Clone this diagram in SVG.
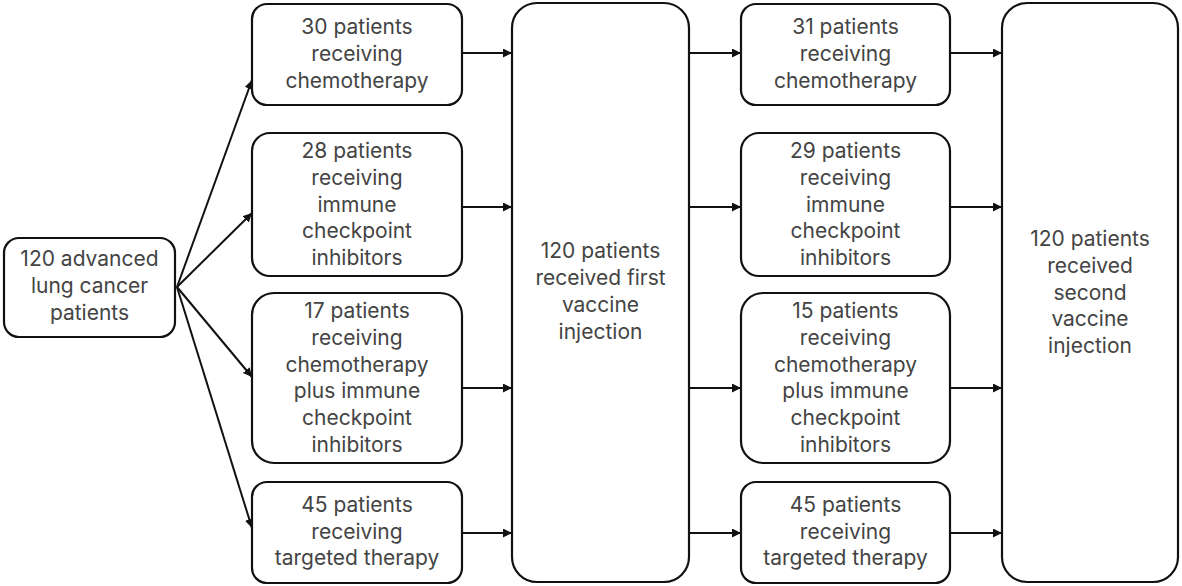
<svg xmlns="http://www.w3.org/2000/svg" width="1182" height="586" viewBox="0 0 1182 586">
<style>
.box{fill:#fff;stroke:#111;stroke-width:2.2}
.t{font-family:Inter,"Noto Sans",sans-serif;font-size:21px;fill:#444;text-anchor:middle;dominant-baseline:central}
.c{stroke:#111;stroke-width:2;fill:none;marker-end:url(#ah)}
</style>
<defs>
<marker id="ah" viewBox="0 0 10 10" refX="10" refY="5" markerWidth="4.5" markerHeight="4.5" orient="auto" markerUnits="strokeWidth">
<path d="M0,0 L10,5 L0,10 z" fill="#111"/>
</marker>
</defs>
<rect width="1182" height="586" fill="#fff"/>
<g id="connectors">
<line class="c" x1="177" y1="287" x2="252" y2="80"/>
<line class="c" x1="177" y1="287" x2="252" y2="213"/>
<line class="c" x1="177" y1="287" x2="252" y2="377"/>
<line class="c" x1="177" y1="287" x2="252" y2="528"/>
<line class="c" x1="462" y1="53" x2="512" y2="53"/>
<line class="c" x1="462" y1="207" x2="512" y2="207"/>
<line class="c" x1="462" y1="388" x2="512" y2="388"/>
<line class="c" x1="462" y1="533" x2="512" y2="533"/>
<line class="c" x1="689" y1="53" x2="741" y2="53"/>
<line class="c" x1="689" y1="207" x2="741" y2="207"/>
<line class="c" x1="689" y1="388" x2="741" y2="388"/>
<line class="c" x1="689" y1="533" x2="741" y2="533"/>
<line class="c" x1="950" y1="53" x2="1002" y2="53"/>
<line class="c" x1="950" y1="207" x2="1002" y2="207"/>
<line class="c" x1="950" y1="388" x2="1002" y2="388"/>
<line class="c" x1="950" y1="533" x2="1002" y2="533"/>
</g>
<g id="start">
<rect class="box" x="4" y="238" width="171" height="99" rx="15"/>
<text class="t" x="89.5" y="258">120 advanced</text>
<text class="t" x="89.5" y="285">lung cancer</text>
<text class="t" x="89.5" y="312">patients</text>
</g>
<g id="a1">
<rect class="box" x="252" y="4" width="210" height="101" rx="15"/>
<text class="t" x="357" y="26">30 patients</text>
<text class="t" x="357" y="53">receiving</text>
<text class="t" x="357" y="80">chemotherapy</text>
</g>
<g id="a2">
<rect class="box" x="252" y="133" width="210" height="143" rx="18"/>
<text class="t" x="357" y="150">28 patients</text>
<text class="t" x="357" y="177">receiving</text>
<text class="t" x="357" y="204">immune</text>
<text class="t" x="357" y="230">checkpoint</text>
<text class="t" x="357" y="257">inhibitors</text>
</g>
<g id="a3">
<rect class="box" x="252" y="293" width="210" height="170" rx="22"/>
<text class="t" x="357" y="310">17 patients</text>
<text class="t" x="357" y="337">receiving</text>
<text class="t" x="357" y="364">chemotherapy</text>
<text class="t" x="357" y="390">plus immune</text>
<text class="t" x="357" y="417">checkpoint</text>
<text class="t" x="357" y="444">inhibitors</text>
</g>
<g id="a4">
<rect class="box" x="252" y="482" width="210" height="101" rx="15"/>
<text class="t" x="357" y="504">45 patients</text>
<text class="t" x="357" y="531">receiving</text>
<text class="t" x="357" y="557">targeted therapy</text>
</g>
<g id="v1">
<rect class="box" x="512" y="3" width="177" height="579" rx="25"/>
<text class="t" x="600.5" y="250">120 patients</text>
<text class="t" x="600.5" y="277">received first</text>
<text class="t" x="600.5" y="304">vaccine</text>
<text class="t" x="600.5" y="331">injection</text>
</g>
<g id="b1">
<rect class="box" x="741" y="4" width="209" height="101" rx="15"/>
<text class="t" x="845.5" y="26">31 patients</text>
<text class="t" x="845.5" y="53">receiving</text>
<text class="t" x="845.5" y="80">chemotherapy</text>
</g>
<g id="b2">
<rect class="box" x="741" y="133" width="209" height="143" rx="18"/>
<text class="t" x="845.5" y="150">29 patients</text>
<text class="t" x="845.5" y="177">receiving</text>
<text class="t" x="845.5" y="204">immune</text>
<text class="t" x="845.5" y="230">checkpoint</text>
<text class="t" x="845.5" y="257">inhibitors</text>
</g>
<g id="b3">
<rect class="box" x="741" y="293" width="209" height="170" rx="22"/>
<text class="t" x="845.5" y="310">15 patients</text>
<text class="t" x="845.5" y="337">receiving</text>
<text class="t" x="845.5" y="364">chemotherapy</text>
<text class="t" x="845.5" y="390">plus immune</text>
<text class="t" x="845.5" y="417">checkpoint</text>
<text class="t" x="845.5" y="444">inhibitors</text>
</g>
<g id="b4">
<rect class="box" x="741" y="482" width="209" height="101" rx="15"/>
<text class="t" x="845.5" y="504">45 patients</text>
<text class="t" x="845.5" y="531">receiving</text>
<text class="t" x="845.5" y="557">targeted therapy</text>
</g>
<g id="v2">
<rect class="box" x="1002" y="3" width="176" height="579" rx="25"/>
<text class="t" x="1090" y="238">120 patients</text>
<text class="t" x="1090" y="265">received</text>
<text class="t" x="1090" y="292">second</text>
<text class="t" x="1090" y="318">vaccine</text>
<text class="t" x="1090" y="345">injection</text>
</g>
</svg>
